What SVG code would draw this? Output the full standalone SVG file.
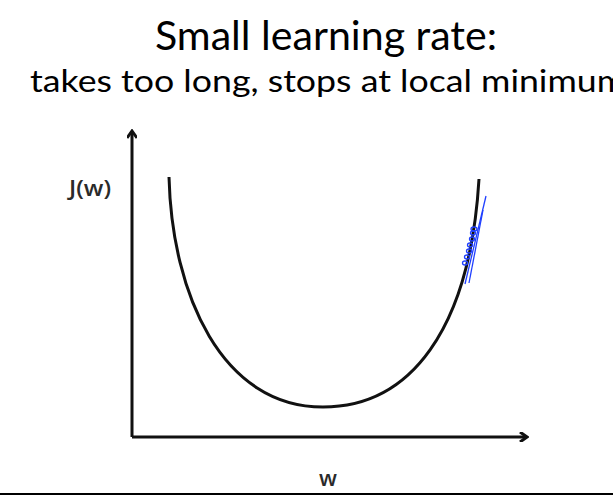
<svg xmlns="http://www.w3.org/2000/svg" width="613" height="495" viewBox="0 0 613 495">
<style>
.t{font-family:Lato,"Open Sans","Liberation Sans",sans-serif;fill:#000}
.lb{font-family:"Open Sans","Liberation Sans",sans-serif;fill:#2a2a2a;font-size:22px;font-weight:600}
.ax{stroke:#111;stroke-width:3;fill:none}
.bl{stroke:#1f3fff;stroke-width:1.3;fill:none}
</style>
<defs>
<marker id="ah" markerWidth="10" markerHeight="10" refX="7" refY="5" orient="auto" markerUnits="userSpaceOnUse">
<path d="M1,0 L8,5 L1,10" fill="none" stroke="#111" stroke-width="3"/>
</marker>
</defs>
<rect width="613" height="495" fill="#fff"/>
<text class="t" x="155" y="50" font-size="40" textLength="342" lengthAdjust="spacingAndGlyphs">Small learning rate:</text>
<text class="t" x="30" y="92" font-size="30" textLength="596" lengthAdjust="spacingAndGlyphs">takes too long, stops at local minimum</text>
<g id="axes">
<path class="ax" d="M132,437 L132,132" marker-end="url(#ah)"/>
<path class="ax" d="M132,437 L526,437" marker-end="url(#ah)"/>
</g>
<text class="lb" x="69" y="196" textLength="42" lengthAdjust="spacingAndGlyphs">J(w)</text>
<text class="lb" x="319" y="486">w</text>
<g id="curve">
<path class="ax" d="M169,177 C172,295 222,407 323,407 C410,407 470,330 479,179"/>
</g>
<g id="tangent">
<path class="bl" d="M465,284 L486,196"/>
<path class="bl" d="M469,283 L483,210"/>
<ellipse class="bl" cx="465" cy="263" rx="2.5" ry="2"/>
<ellipse class="bl" cx="467" cy="257" rx="2.5" ry="2"/>
<ellipse class="bl" cx="469" cy="251" rx="2.5" ry="2"/>
<ellipse class="bl" cx="470" cy="245" rx="2.5" ry="2"/>
<ellipse class="bl" cx="472" cy="239" rx="2.5" ry="2"/>
<ellipse class="bl" cx="473" cy="233" rx="2.5" ry="2"/>
<ellipse class="bl" cx="474" cy="229" rx="3" ry="2"/>
</g>
<line x1="0" y1="494" x2="613" y2="494" stroke="#000" stroke-width="2"/>
</svg>
